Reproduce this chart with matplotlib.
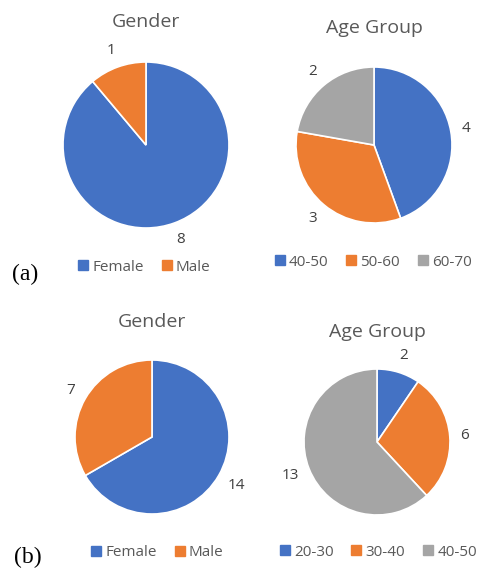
import numpy as np
import matplotlib.pyplot as plt
from matplotlib.lines import Line2D

# data
gender_labels = ["Female", "Male"]
gender_a = [8, 1]
gender_b = [14, 7]

age_labels_a = ["40-50", "50-60", "60-70"]
age_a = [4, 3, 2]
age_labels_b = ["20-30", "30-40", "40-50"]
age_b = [2, 6, 13]

colors = ["#4472C4", "#ED7D31", "#A5A5A5"]
text_col = "#595959"
W, H = 487, 574

plt.rcParams['font.family'] = ['Open Sans', 'DejaVu Sans']

fig = plt.figure(figsize=(W / 100, H / 100), dpi=100)


def pie_panel(cx, cy, r, values, labels, title, title_y, legend_y, legend_x):
    # cx, cy, r in pixels (y from top)
    ax = fig.add_axes([(cx - r) / W, 1 - (cy + r) / H, 2 * r / W, 2 * r / H])
    wedges, _ = ax.pie(values, colors=colors[:len(values)], startangle=90,
                       counterclock=False,
                       wedgeprops=dict(edgecolor="white", linewidth=1.2))
    # data labels outside end, with a fixed pixel gap from the rim
    for w, v in zip(wedges, values):
        ang = np.deg2rad((w.theta1 + w.theta2) / 2)
        s = str(v)
        half = abs(np.cos(ang)) * 3.8 * len(s) + abs(np.sin(ang)) * 7
        d = 1 + (10 + half) / r
        ax.text(d * np.cos(ang), d * np.sin(ang), s, ha="center", va="center",
                fontsize=11, color="#404040")
    ax.set_xlim(-1, 1)
    ax.set_ylim(-1, 1)
    ax.set_aspect("equal")
    ax.axis("off")
    fig.text(cx / W, 1 - title_y / H, title, ha="center", va="center",
             fontsize=14, color=text_col)
    handles = [Line2D([], [], marker="s", linestyle="none", markersize=7,
                      color=c) for c in colors[:len(values)]]
    fig.legend(handles, labels, loc="center", ncol=len(values),
               bbox_to_anchor=(legend_x / W, 1 - legend_y / H), frameon=False,
               fontsize=11, labelcolor=text_col, handletextpad=0.1,
               columnspacing=1.0, handlelength=1.0)


pie_panel(146, 145, 83, gender_a, gender_labels, "Gender", 22, 267, 143)
pie_panel(374, 145, 78, age_a, age_labels_a, "Age Group", 28, 262, 372)
pie_panel(152, 437, 77, gender_b, gender_labels, "Gender", 322, 553, 156)
pie_panel(377, 442, 73, age_b, age_labels_b, "Age Group", 332, 552, 377)

fig.text(25 / W, 1 - 274 / H, "(a)", ha="center", va="center", fontsize=17,
         family="Liberation Serif", color="black")
fig.text(28 / W, 1 - 557 / H, "(b)", ha="center", va="center", fontsize=17,
         family="Liberation Serif", color="black")

fig.savefig("out.png", dpi=100, facecolor="white")
